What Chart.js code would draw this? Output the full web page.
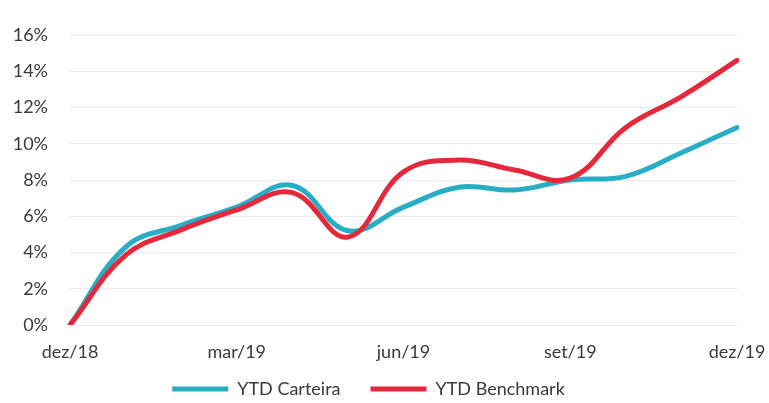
<!DOCTYPE html>
<html>
<head>
<meta charset="utf-8">
<script src="https://cdn.jsdelivr.net/npm/chart.js@4/dist/chart.umd.min.js"></script>
<style>
  html, body { margin: 0; padding: 0; background: #ffffff; }
  #wrap { width: 769px; height: 403px; }
</style>
</head>
<body>
<div id="wrap"><canvas id="c" width="769" height="403"></canvas></div>
<script>
// Monthly year-to-date returns (%), Dec/2018 through Dec/2019
const months = ['dez/18', 'jan/19', 'fev/19', 'mar/19', 'abr/19', 'mai/19', 'jun/19',
                'jul/19', 'ago/19', 'set/19', 'out/19', 'nov/19', 'dez/19'];
const ytdCarteira  = [0, 4.3, 5.5, 6.5, 7.7, 5.2, 6.5, 7.6, 7.45, 8.0, 8.2, 9.5, 10.9];
const ytdBenchmark = [0, 3.85, 5.25, 6.35, 7.3, 4.85, 8.45, 9.1, 8.55, 8.1, 10.9, 12.6, 14.6];
const shownMonths = ['dez/18', 'mar/19', 'jun/19', 'set/19', 'dez/19'];

const TEAL = '#27adc4';
const RED = '#e6283d';
const TEXT = '#3a3a3a';
const FONT = "Lato, 'Open Sans', sans-serif";

// Keeps the bottom legend compact and lifts its items closer to the axis labels,
// while the items keep a wide horizontal gap
const legendPlacement = {
  id: 'legendPlacement',
  afterInit(chart) {
    const lg = chart.legend;
    if (!lg) return;
    const fit = lg.fit.bind(lg);
    lg.fit = function () { fit(); this.height = 40; };
  },
  afterLayout(chart) {
    const lg = chart.legend;
    if (!lg) return;
    lg.top -= 13;
  }
};

new Chart(document.getElementById('c'), {
  type: 'line',
  plugins: [legendPlacement],
  data: {
    labels: months,
    datasets: [
      {
        label: 'YTD Carteira',
        data: ytdCarteira,
        borderColor: TEAL,
        backgroundColor: TEAL,
        borderWidth: 5,
        borderCapStyle: 'round',
        tension: 0.4,
        pointRadius: 0,
        order: 1
      },
      {
        label: 'YTD Benchmark',
        data: ytdBenchmark,
        borderColor: RED,
        backgroundColor: RED,
        borderWidth: 5,
        borderCapStyle: 'round',
        tension: 0.4,
        pointRadius: 0,
        order: 0
      }
    ]
  },
  options: {
    responsive: false,
    animation: false,
    layout: { padding: { top: 35, right: 32, left: 0, bottom: 0 } },
    scales: {
      x: {
        afterFit: (scale) => { scale.height = 38; scale.paddingLeft = 0; scale.paddingRight = 0; },
        grid: { display: false, drawTicks: false },
        border: { display: false },
        ticks: {
          color: TEXT,
          font: { family: FONT, size: 18 },
          padding: 16,
          maxRotation: 0,
          autoSkip: false,
          callback: function (value) {
            const lab = this.getLabelForValue(value);
            return shownMonths.includes(lab) ? lab : '';
          }
        }
      },
      y: {
        min: 0,
        max: 16,
        afterFit: (scale) => { scale.width = 70; },
        grid: { color: '#ececec', lineWidth: 1, drawTicks: false },
        border: { display: false },
        ticks: {
          stepSize: 2,
          color: TEXT,
          padding: 22,
          font: { family: FONT, size: 18 },
          callback: (v) => v + '%'
        }
      }
    },
    plugins: {
      tooltip: { enabled: false },
      legend: {
        position: 'bottom',
        labels: {
          color: TEXT,
          font: { family: FONT, size: 18 },
          boxWidth: 56,
          boxHeight: 5,
          padding: 30,
          sort: (a, b) => a.datasetIndex - b.datasetIndex,
          generateLabels: (chart) => {
            const items = Chart.defaults.plugins.legend.labels.generateLabels(chart);
            items.forEach(it => { it.lineWidth = 0; it.strokeStyle = 'rgba(0,0,0,0)'; });
            return items;
          }
        }
      }
    }
  }
});
</script>
</body>
</html>
